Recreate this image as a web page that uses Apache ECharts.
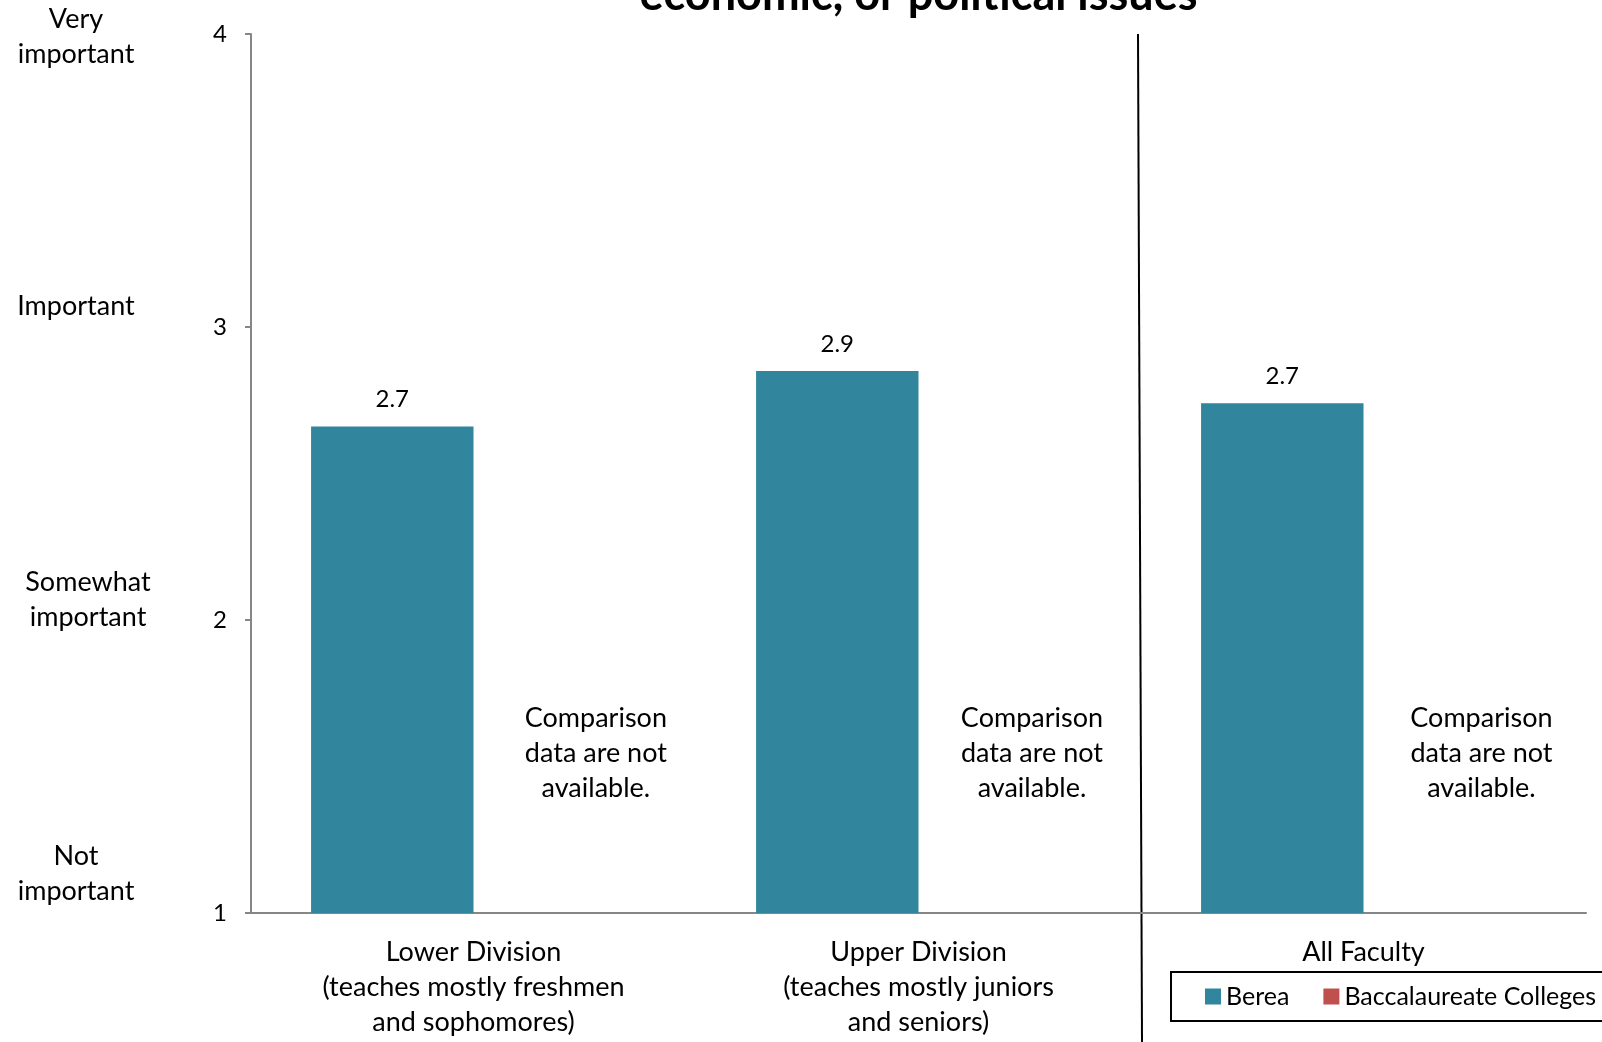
<!DOCTYPE html>
<html>
<head>
<meta charset="utf-8">
<script src="https://cdn.jsdelivr.net/npm/echarts@6/dist/echarts.min.js"></script>
<style>
  html, body { margin: 0; padding: 0; background: #ffffff; }
  #chart { width: 1602px; height: 1042px; }
</style>
</head>
<body>
<div id="chart"></div>
<script>
// Faculty groups on the category axis
const categories = [
  'Lower Division\n(teaches mostly freshmen\nand sophomores)',
  'Upper Division\n(teaches mostly juniors\nand seniors)',
  'All Faculty'
];
// Mean importance ratings (1 = not important ... 4 = very important)
const bereaValues = [2.66, 2.85, 2.74];
// No comparison group values are available
const baccalaureateValues = [null, null, null];
// Value-axis range and step
const yMin = 1;
const yMax = 4;
const yStep = 1;
// Verbal meaning of each scale point, from 1 up to 4
const scaleValues = [1, 2, 3, 4];
const scaleLabels = ['Not\nimportant', 'Somewhat\nimportant', 'Important', 'Very\nimportant'];
const noDataNote = 'Comparison\ndata are not\navailable.';
const titleText = 'economic, or political issues';

const FONT = 'Lato, "Open Sans", sans-serif';
const TEAL = '#31859C';
const RED = '#C0504D';
const AXIS_GREY = '#868686';

const chart = echarts.init(document.getElementById('chart'), null, { renderer: 'canvas' });

chart.setOption({
  animation: false,
  backgroundColor: '#ffffff',
  textStyle: { fontFamily: FONT, color: '#000' },
  grid: { left: 251, right: 16, top: 34, bottom: 129, containLabel: false },
  legend: {
    data: ['Berea', 'Baccalaureate Colleges'],
    left: 1171,
    top: 972,
    orient: 'horizontal',
    width: 700,
    padding: [12, 120, 12, 34],
    itemWidth: 16,
    itemHeight: 16,
    itemGap: 34,
    borderColor: '#000',
    borderWidth: 2,
    icon: 'rect',
    textStyle: { fontFamily: FONT, fontSize: 25, color: '#000', lineHeight: 24 }
  },
  xAxis: {
    type: 'category',
    data: categories,
    axisLine: { show: true, lineStyle: { color: AXIS_GREY, width: 2 } },
    axisTick: { show: false },
    axisLabel: {
      interval: 0,
      margin: 22,
      fontFamily: FONT,
      fontSize: 27,
      lineHeight: 35,
      color: '#000',
      align: 'center'
    },
    splitLine: { show: false }
  },
  yAxis: {
    type: 'value',
    min: yMin,
    max: yMax,
    interval: yStep,
    axisLine: { show: true, lineStyle: { color: AXIS_GREY, width: 2 } },
    axisTick: { show: true, length: 6, lineStyle: { color: AXIS_GREY, width: 2 } },
    axisLabel: { margin: 24, fontFamily: FONT, fontSize: 24, color: '#000' },
    splitLine: { show: false }
  },
  series: [
    {
      name: 'Berea',
      type: 'bar',
      data: bereaValues,
      itemStyle: { color: TEAL },
      barGap: '0%',
      barCategoryGap: '27%',
      label: {
        show: true,
        position: 'top',
        distance: 15,
        fontFamily: FONT,
        fontSize: 24,
        color: '#000',
        formatter: p => p.value.toFixed(1)
      }
    },
    {
      name: 'Baccalaureate Colleges',
      type: 'bar',
      data: baccalaureateValues,
      itemStyle: { color: RED }
    }
  ]
});

// Annotations placed through the chart's own coordinate system
function drawAnnotations() {
  const graphics = [];
  const centers = categories.map((c, i) => chart.convertToPixel({ xAxisIndex: 0 }, i));
  const band = centers[1] - centers[0];
  const yTop = chart.convertToPixel({ yAxisIndex: 0 }, yMax);

  // Title (second line of a wrapped heading, first line sits above the canvas)
  graphics.push({
    type: 'text',
    style: {
      text: titleText,
      x: (centers[0] + centers[2]) / 2,
      y: 18,
      fontFamily: FONT,
      fontSize: 45,
      fontWeight: 'bold',
      fill: '#000',
      align: 'center',
      verticalAlign: 'bottom'
    }
  });

  // Divider between the division breakdown and the all-faculty group
  const divider = (centers[1] + centers[2]) / 2;
  graphics.push({
    type: 'line',
    shape: { x1: divider - 3, y1: yTop, x2: divider + 1, y2: 1042 },
    style: { stroke: '#000', lineWidth: 2 }
  });

  // Notes in the empty comparison slots
  const noteY = chart.convertToPixel({ yAxisIndex: 0 }, 1.545);
  const noteShift = [0.275, 0.255, 0.265];
  centers.forEach((cx, i) => {
    graphics.push({
      type: 'text',
      style: {
        text: noDataNote,
        x: cx + band * noteShift[i],
        y: noteY,
        fontFamily: FONT,
        fontSize: 27,
        lineHeight: 35,
        fill: '#000',
        align: 'center',
        verticalAlign: 'middle'
      }
    });
  });

  // Verbal scale labels down the left side
  const lift = [39, 20, 21, -3];
  const centerX = [76, 88, 76, 76];
  scaleValues.forEach((v, i) => {
    graphics.push({
      type: 'text',
      style: {
        text: scaleLabels[i],
        x: centerX[i],
        y: chart.convertToPixel({ yAxisIndex: 0 }, v) - lift[i],
        fontFamily: FONT,
        fontSize: 27,
        lineHeight: 35,
        fill: '#000',
        align: 'center',
        verticalAlign: 'middle'
      }
    });
  });

  chart.setOption({ graphic: graphics });
}

drawAnnotations();
</script>
</body>
</html>
